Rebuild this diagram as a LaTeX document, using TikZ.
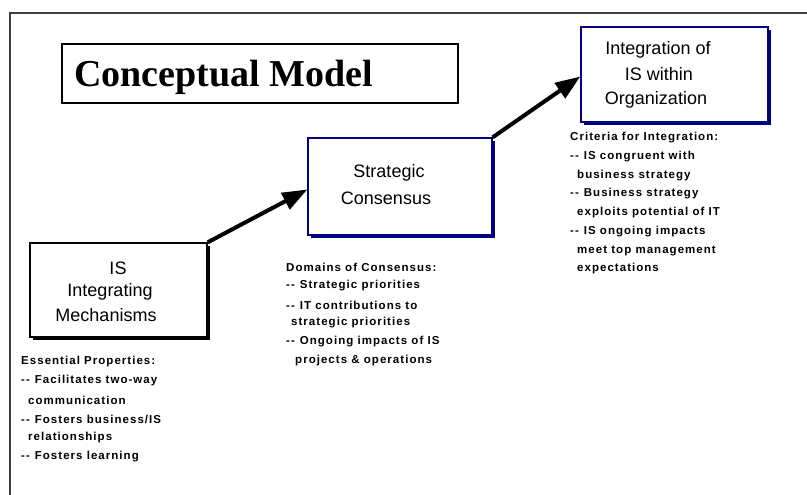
\documentclass[tikz,border=0pt]{standalone}
\usepackage{fontspec}
\setmainfont{Liberation Sans}
\newfontfamily\titlefont{Liberation Serif}
\newfontfamily\listfont[LetterSpace=9]{Liberation Sans}
\usetikzlibrary{arrows.meta}
\definecolor{navyb}{RGB}{0,0,128}
\newcommand\dd{-\kern1pt-\kern5pt}
\begin{document}
\begin{tikzpicture}[x=1pt,y=-1pt,
  stagebox/.style={draw=#1,line width=1.3pt,fill=white,inner sep=0pt,
    preaction={fill=#1,transform canvas={shift={(3pt,-3pt)}}}},
  boxtext/.style={inner sep=0pt,font=\fontsize{18}{20}\selectfont},
  lst/.style={anchor=west,inner sep=0pt,font=\listfont\bfseries\fontsize{11.5}{13}\selectfont},
  flow/.style={line width=4pt,-{Triangle[length=25pt,width=18pt]}}]
\useasboundingbox (0,0) rectangle (807,495);
\fill[white] (0,0) rectangle (807,495);
% outer frame
\draw[line width=1.5pt,black!75] (10,500) -- (10,13) -- (812,13);
% title
\node[draw,line width=1.2pt,minimum width=396pt,minimum height=59pt,inner sep=0pt] (title) at (260,73.5) {};
\node[anchor=base west,inner sep=0pt,font=\titlefont\bfseries\fontsize{38}{40}\selectfont] (titletext) at (74,87) {Conceptual Model};
% boxes
\node[stagebox=black,minimum width=177pt,minimum height=94pt] (b1) at (118.5,290) {};
\node[stagebox=navyb,minimum width=184pt,minimum height=97pt] (b2) at (400,186.5) {};
\node[stagebox=navyb,minimum width=187pt,minimum height=95pt] (b3) at (674.5,74.5) {};
% box texts
\node[boxtext] (t1a) at (118,268) {IS};
\node[boxtext] (t1b) at (110,292) {Integrating};
\node[boxtext] (t1c) at (106,315) {Mechanisms};
\node[boxtext] (t2a) at (389,173) {Strategic};
\node[boxtext] (t2b) at (386,198) {Consensus};
\node[boxtext] (t3a) at (658,50) {Integration of};
\node[boxtext] (t3b) at (659,74) {IS within};
\node[boxtext] (t3c) at (656,100) {Organization};
% arrows
\draw[flow] (b1.north east) -- ([yshift=-3pt]b2.west);
\draw[flow] (b2.north east) -- ([yshift=-2pt]b3.west);
% left list
\node[lst] (l1) at (21,362) {Essential Properties:};
\node[lst] (l2) at (21,381) {\dd Facilitates two-way};
\node[lst] (l3) at (28,400) {communication};
\node[lst] (l4) at (21,419) {\dd Fosters business/IS};
\node[lst] (l5) at (28,438) {relationships};
\node[lst] (l6) at (21,457) {\dd Fosters learning};
% middle list
\node[lst] (m1) at (286,267) {Domains of Consensus:};
\node[lst] (m2) at (286,286) {\dd Strategic priorities};
\node[lst] (m3) at (286,305) {\dd IT contributions to};
\node[lst] (m4) at (291,323) {strategic priorities};
\node[lst] (m5) at (286,342) {\dd Ongoing impacts of IS};
\node[lst] (m6) at (295,361) {projects \& operations};
% right list
\node[lst] (r1) at (570,138) {Criteria for Integration:};
\node[lst] (r2) at (570,157) {\dd IS congruent with};
\node[lst] (r3) at (577,176) {business strategy};
\node[lst] (r4) at (570,194) {\dd Business strategy};
\node[lst] (r5) at (577,213) {exploits potential of IT};
\node[lst] (r6) at (570,232) {\dd IS ongoing impacts};
\node[lst] (r7) at (577,251) {meet top management};
\node[lst] (r8) at (577,269) {expectations};
\end{tikzpicture}
\end{document}
